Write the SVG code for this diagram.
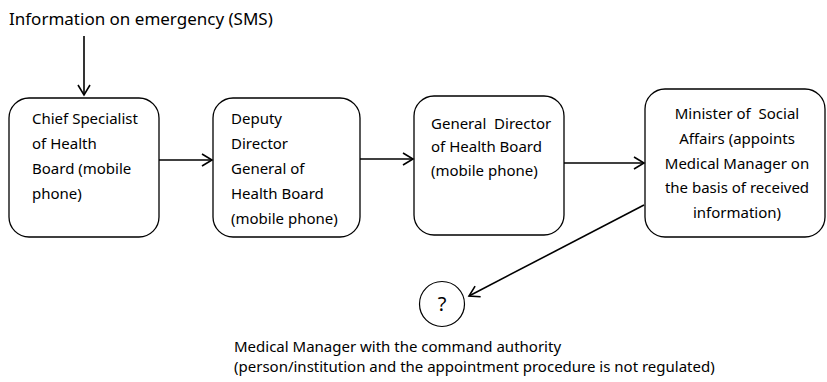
<svg xmlns="http://www.w3.org/2000/svg" width="827" height="382" viewBox="0 0 827 382">
<style>
text{font-family:"Noto Sans","Open Sans",sans-serif;font-size:15px;fill:#000}
.box{fill:#fff;stroke:#000;stroke-width:1.3}
.c{fill:none;stroke:#000;stroke-width:1.6}
.mid{text-anchor:middle}
</style>
<defs>
<marker id="ah" markerWidth="14" markerHeight="14" refX="11" refY="7" orient="auto" markerUnits="userSpaceOnUse">
<path d="M1,1 L11,7 L1,13" fill="none" stroke="#000" stroke-width="1.6"/>
</marker>
</defs>
<rect width="827" height="382" fill="#fff"/>
<g id="label-top"><text x="9" y="25" style="font-size:17px">Information on emergency (SMS)</text></g>
<g id="n1">
<rect class="box" x="9" y="98" width="150" height="139" rx="20"/>
<text x="32" y="124">Chief Specialist</text>
<text x="32" y="149">of Health</text>
<text x="32" y="174">Board (mobile</text>
<text x="32" y="199">phone)</text>
</g>
<g id="n2">
<rect class="box" x="213" y="98" width="147" height="139" rx="20"/>
<text x="231" y="124">Deputy</text>
<text x="231" y="149">Director</text>
<text x="231" y="174">General of</text>
<text x="231" y="199">Health Board</text>
<text x="231" y="224">(mobile phone)</text>
</g>
<g id="n3">
<rect class="box" x="414" y="96" width="150" height="139" rx="20"/>
<text x="431" y="129" xml:space="preserve">General  Director</text>
<text x="431" y="152">of Health Board</text>
<text x="431" y="176">(mobile phone)</text>
</g>
<g id="n4">
<rect class="box" x="645" y="89" width="180" height="148" rx="20"/>
<text class="mid" x="737" y="119" xml:space="preserve">Minister of  Social</text>
<text class="mid" x="737" y="144">Affairs (appoints</text>
<text class="mid" x="737" y="169">Medical Manager on</text>
<text class="mid" x="737" y="193">the basis of received</text>
<text class="mid" x="737" y="218">information)</text>
</g>
<g id="n5">
<circle cx="442" cy="304" r="22.5" fill="#fff" stroke="#000" stroke-width="1.2"/>
<text class="mid" x="442" y="311" style="font-size:20px">?</text>
</g>
<g id="label-bottom">
<text x="234" y="352">Medical Manager with the command authority</text>
<text x="234" y="372">(person/institution and the appointment procedure is not regulated)</text>
</g>
<g id="connectors">
<line class="c" x1="84" y1="36" x2="84" y2="95" marker-end="url(#ah)"/>
<line class="c" x1="159" y1="160" x2="212" y2="160" marker-end="url(#ah)"/>
<line class="c" x1="360" y1="159" x2="413" y2="159" marker-end="url(#ah)"/>
<line class="c" x1="564" y1="163" x2="644" y2="163" marker-end="url(#ah)"/>
<line class="c" x1="644" y1="205" x2="469" y2="296" marker-end="url(#ah)"/>
</g>
</svg>
